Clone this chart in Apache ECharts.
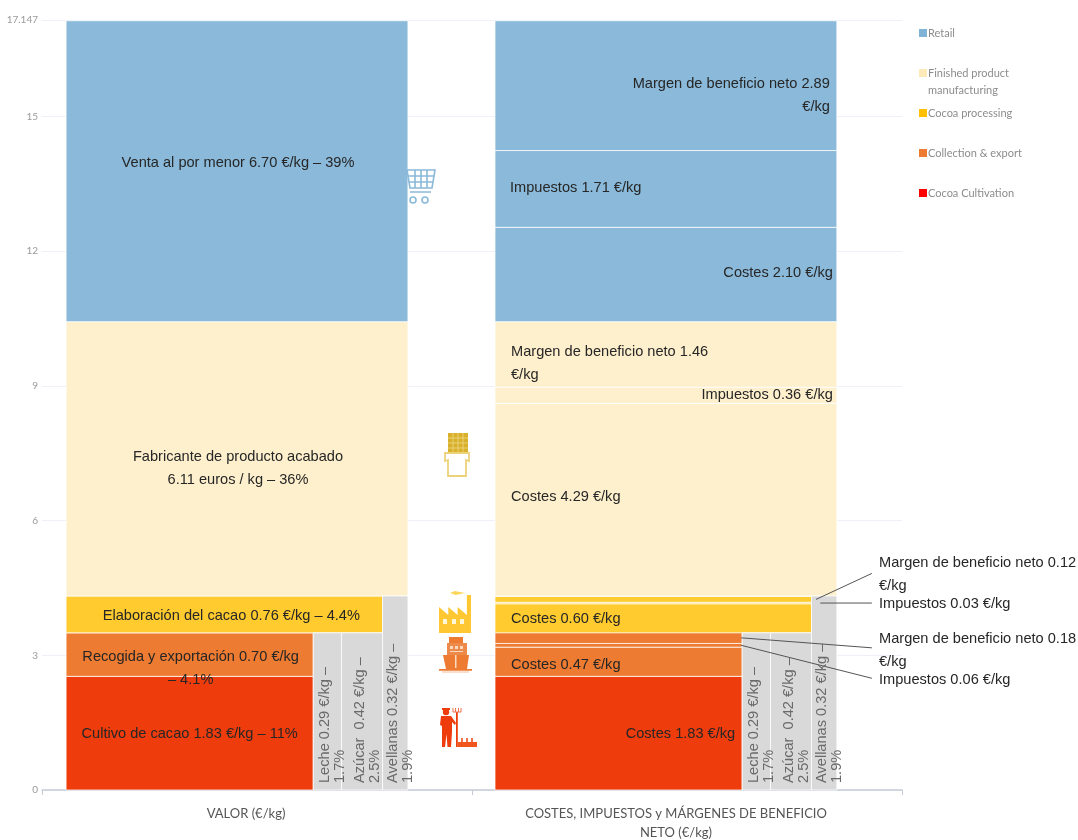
<!DOCTYPE html>
<html>
<head>
<meta charset="utf-8">
<style>html,body{margin:0;padding:0;background:#fff}#chart{width:1078px;height:840px}</style>
<script src="https://cdn.jsdelivr.net/npm/echarts@6/dist/echarts.min.js"></script>
</head>
<body>
<div id="chart"></div>
<script>
// Value of a kilo of chocolate hazelnut spread, by stage of the chain (EUR/kg).
const stageNames = ['Cocoa Cultivation', 'Collection & export', 'Cocoa processing', 'Finished product manufacturing', 'Retail'];
const stageValues = [1.83, 0.70, 0.76, 6.11, 6.70];
const stagePercents = ['11%', '4.1%', '4.4%', '36%', '39%'];
const axisCategories = ['VALOR (€/kg)', 'COSTES, IMPUESTOS y MÁRGENES DE BENEFICIO\nNETO (€/kg)'];

// Breakdown of each stage: costs, taxes, net margin.
const cultivationBreakdown = [1.83];
const collectionBreakdown = [0.47, 0.06, 0.18];
const processingBreakdown = [0.60, 0.03, 0.12];
const manufacturingBreakdown = [4.29, 0.36, 1.46];
const retailBreakdown = [2.10, 1.71, 2.89];

// Other ingredients, shown beside the cocoa stages.
const ingredientNames = ['Leche', 'Azúcar ', 'Avellanas'];
const ingredientValues = [0.29, 0.42, 0.32];
const ingredientPercents = ['1.7%', '2.5%', '1.9%'];

const axisMax = 17.147;
const palette = ['#ee3c0c', '#ed7b31', '#ffcb2f', '#fef0cd', '#8ab9d9'];
const legendColors = ['#ff0000', '#ed7b31', '#ffc000', '#fee9b8', '#7fb3d5'];
const greyFill = '#d9d9d9';
const LABEL_FONT = '14.6px "Liberation Sans", Arial, sans-serif';

// Each block's AREA is its value, so a narrower column stands taller.
const [crop, collect, proc] = stageValues;
const [milk, sugar, nuts] = ingredientValues;
const lower = crop + collect;
const shelf = milk + sugar;
const baseTotal = lower + shelf + proc + nuts;
const procShare = (lower + shelf + proc) / baseTotal;
const lowerShare = procShare * lower / (lower + shelf);
const lowerHeight = (lower + shelf) / procShare;

const colStart = [0.056, 1.0535];
const colSpan = 0.795;
const xAt = (col, share) => colStart[col] + colSpan * share;

// Stacks one stage's blocks upward; returns [x0, x1, y0, y1] rows.
function stack(parts, share, base, col) {
  let y = base;
  return parts.map(v => {
    const top = y + v / share;
    const row = [xAt(col, 0), xAt(col, share), y, top];
    y = top;
    return row;
  });
}
const tops = [];
let runY = 0;
const shares = [lowerShare, lowerShare, procShare, 1, 1];
stageValues.forEach((v, i) => { tops.push(runY); runY += v / shares[i]; });

const breakdowns = [cultivationBreakdown, collectionBreakdown, processingBreakdown, manufacturingBreakdown, retailBreakdown];
const stageRows = stageValues.map((v, i) => {
  const left = stack([v], shares[i], tops[i], 0);
  const right = stack(breakdowns[i], shares[i], tops[i], 1);
  return { left: left[0], right };
});

function ingredientRows(col) {
  const a = milk / lowerHeight, b = sugar / lowerHeight;
  return [
    [xAt(col, lowerShare), xAt(col, lowerShare + a), 0, lowerHeight],
    [xAt(col, lowerShare + a), xAt(col, lowerShare + a + b), 0, lowerHeight],
    [xAt(col, procShare), xAt(col, 1), 0, baseTotal]
  ];
}
const leftGrey = ingredientRows(0);
const rightGrey = ingredientRows(1);

const eur = v => v.toFixed(2) + ' €/kg';
const mid = r => (r[2] + r[3]) / 2;
const cx = r => (r[0] + r[1]) / 2;

// Text placed against the blocks: [text, x, y, align, dx, dy, colour, rotated].
const dark = '#262626', greyText = '#6a6a6a';
const sLeft = stageRows.map(s => s.left);
const sRight = stageRows.map(s => s.right);
const outerX = 1.9465;
const labels = [
  [`Cultivo de cacao ${eur(crop)} – ${stagePercents[0]}`, cx(sLeft[0]), mid(sLeft[0]), 'center', 0, 1, dark],
  [`Recogida y exportación ${eur(collect)}\n– ${stagePercents[1]}`, cx(sLeft[1]), mid(sLeft[1]), 'center', 1, 14, dark],
  [`Elaboración del cacao ${eur(proc)} – ${stagePercents[2]}`, cx(sLeft[2]), mid(sLeft[2]), 'center', 7, 2, dark],
  [`Fabricante de producto acabado\n${stageValues[3].toFixed(2)} euros / kg – ${stagePercents[3]}`, cx(sLeft[3]), mid(sLeft[3]), 'center', 1, 10, dark],
  [`Venta al por menor ${eur(stageValues[4])} – ${stagePercents[4]}`, cx(sLeft[4]), mid(sLeft[4]), 'center', 1, -8, dark],

  [`Costes ${eur(cultivationBreakdown[0])}`, sRight[0][0][1], mid(sRight[0][0]), 'right', -7, 1, dark],
  [`Costes ${eur(collectionBreakdown[0])}`, sRight[1][0][0], mid(sRight[1][0]), 'left', 16, 3, dark],
  [`Costes ${eur(processingBreakdown[0])}`, sRight[2][0][0], mid(sRight[2][0]), 'left', 16, 1, dark],
  [`Costes ${eur(manufacturingBreakdown[0])}`, sRight[3][0][0], mid(sRight[3][0]), 'left', 16, -3, dark],
  [`Impuestos ${eur(manufacturingBreakdown[1])}`, sRight[3][1][1], mid(sRight[3][1]), 'right', -4, 0, dark],
  [`Margen de beneficio neto ${manufacturingBreakdown[2].toFixed(2)}\n€/kg`, sRight[3][2][0], mid(sRight[3][2]), 'left', 16, 9, dark],
  [`Costes ${eur(retailBreakdown[0])}`, sRight[4][0][1], mid(sRight[4][0]), 'right', -4, -2, dark],
  [`Impuestos ${eur(retailBreakdown[1])}`, sRight[4][1][0], mid(sRight[4][1]), 'left', 15, -1, dark],
  [`Margen de beneficio neto ${retailBreakdown[2].toFixed(2)}\n€/kg`, sRight[4][2][1], mid(sRight[4][2]), 'right', -7, 10, dark],

  [`Margen de beneficio neto ${processingBreakdown[2].toFixed(2)}\n€/kg`, outerX, mid(sRight[2][2]), 'left', 0, -25, dark],
  [`Impuestos ${eur(processingBreakdown[1])}`, outerX, mid(sRight[2][1]), 'left', 0, 1, dark],
  [`Margen de beneficio neto ${collectionBreakdown[2].toFixed(2)}\n€/kg`, outerX, mid(sRight[1][2]), 'left', 0, 13, dark],
  [`Impuestos ${eur(collectionBreakdown[1])}`, outerX, mid(sRight[1][1]), 'left', 0, 35, dark]
];
[leftGrey, rightGrey].forEach(rows => rows.forEach((r, i) => {
  labels.push([`${ingredientNames[i]} ${eur(ingredientValues[i])} –\n${ingredientPercents[i]}`, cx(r), 0, 'left', 5, -7, greyText, true]);
}));

// Leader lines from thin blocks out to their captions: [x, y, endX, dyEnd].
const leaderEndX = 1.93;
const leaders = [
  [1.80, mid(sRight[2][2]), leaderEndX, -26],
  [1.81, mid(sRight[2][1]), leaderEndX, 0],
  [1.626, mid(sRight[1][2]), leaderEndX, 10],
  [1.626, mid(sRight[1][1]), leaderEndX, 33]
];

const blockItem = (params, api) => {
  const a = api.coord([api.value(0), api.value(2)]);
  const b = api.coord([api.value(1), api.value(3)]);
  return {
    type: 'rect',
    shape: { x: a[0], y: b[1], width: b[0] - a[0], height: a[1] - b[1] },
    style: { fill: api.visual('color'), stroke: '#ffffff', strokeOpacity: 0.75, lineWidth: 1 }
  };
};
const blockSeries = (name, color, rows, z) => ({
  type: 'custom', name, xAxisIndex: 0, yAxisIndex: 0, z,
  renderItem: blockItem, itemStyle: { color },
  encode: { x: [0, 1], y: [2, 3] }, data: rows, silent: true
});

// Pictograms in the white strip between the two columns.
const rect = (x, y, width, height, fill) => ({ type: 'rect', shape: { x, y, width, height }, style: { fill } });
const path = (pathData, x, y, width, height, style) => ({ type: 'path', shape: { pathData, x, y, width, height, layout: 'cover' }, style });
const pictograms = () => [
  { type: 'group', x: 407, y: 168, children: [
    path('M0 2H28L25 20H3ZM1 8H27M2 14H26M8 2V20M14 2V20M20 2V20M3 24H24', 0, 2, 28, 22, { fill: 'none', stroke: '#8ab9d9', lineWidth: 1.6 }),
    { type: 'circle', shape: { cx: 6, cy: 32, r: 3 }, style: { fill: 'none', stroke: '#8ab9d9', lineWidth: 1.6 } },
    { type: 'circle', shape: { cx: 18, cy: 32, r: 3 }, style: { fill: 'none', stroke: '#8ab9d9', lineWidth: 1.6 } }
  ] },
  { type: 'group', x: 445, y: 433, children: [
    rect(3, 0, 20, 20, '#d9b02a'),
    path('M3 5H23M3 10H23M3 15H23M8 0V20M13 0V20M18 0V20', 3, 0, 20, 20, { fill: 'none', stroke: '#f0d98a', lineWidth: 0.8 }),
    path('M0 20L24 20L24 28L21 27V43H3V27L0 28Z', 0, 20, 24, 23, { fill: '#fff', stroke: '#ecd27a', lineWidth: 1.8 })
  ] },
  { type: 'group', x: 439, y: 591, children: [
    path('M0 42V16L9 24V16L18 24V16L27 24V4H31V42Z', 0, 4, 32, 38, { fill: '#ffc832' }),
    path('M11 3L16 1L27 3L17 5Z', 11, 0, 15, 4, { fill: '#ffd65c' }),
    rect(4, 28, 4, 5, '#fff7d8'), rect(13, 28, 4, 5, '#fff7d8'), rect(21, 28, 4, 5, '#fff7d8')
  ] },
  { type: 'group', x: 439, y: 636, children: [
    rect(10, 1, 14, 6, '#ed7b31'),
    rect(8, 7, 20, 12, '#ed8a4a'), rect(11, 10, 3, 3, '#fbd9c0'), rect(16, 10, 3, 3, '#fbd9c0'), rect(21, 10, 3, 3, '#fbd9c0'), rect(11, 15, 13, 1, '#fbd9c0'),
    path('M4 19H30L28 33H7Z', 4, 19, 26, 14, { fill: '#ed7b31' }),
    rect(16, 19, 1.5, 13, '#fbd9c0'),
    rect(0, 33, 33, 1.8, '#ed7b31'), rect(3, 35.5, 27, 1, '#f6bd98')
  ] },
  { type: 'group', x: 440, y: 706, children: [
    { type: 'circle', shape: { cx: 6, cy: 6, r: 3.2 }, style: { fill: '#ee3c0c' } },
    rect(2, 2, 8, 2, '#ee3c0c'),
    path('M1 10H11L16 17L15 19L12 16V26L11 41H7.5L6.5 28L5 41H2V20L0 19Z', 0, 10, 16, 31, { fill: '#ee3c0c' }),
    rect(16, 6, 1.8, 35, '#ee3c0c'),
    path('M13 2V6H21V2M15.5 2V6M18.5 2V6', 13, 2, 8, 4, { fill: 'none', stroke: '#f2704a', lineWidth: 1 }),
    rect(18, 36, 19, 5, '#f2561f'),
    rect(21, 32, 2, 4, '#f2704a'), rect(26, 32, 2, 4, '#f2704a'), rect(31, 32, 2, 4, '#f2704a')
  ] }
];

const series = stageNames.map((name, i) =>
  blockSeries(name, palette[i], [stageRows[i].left, ...stageRows[i].right], 3));
series.push(blockSeries('Ingredientes', greyFill, [...leftGrey, ...rightGrey], 3));

series.push({
  type: 'custom', name: 'leaders', xAxisIndex: 0, yAxisIndex: 0, z: 6, silent: true,
  data: leaders,
  renderItem(params, api) {
    const s = api.coord([api.value(0), api.value(1)]);
    const e = api.coord([api.value(2), api.value(1)]);
    return {
      type: 'line',
      shape: { x1: s[0], y1: s[1], x2: e[0], y2: s[1] + api.value(3) },
      style: { stroke: '#555555', lineWidth: 1 }
    };
  }
});
series.push({
  type: 'custom', name: 'labels', xAxisIndex: 0, yAxisIndex: 0, z: 7, silent: true,
  data: labels.map(l => [l[1], l[2]]),
  renderItem(params, api) {
    const l = labels[params.dataIndex];
    const p = api.coord([api.value(0), api.value(1)]);
    return {
      type: 'text',
      x: p[0] + l[4], y: p[1] + l[5],
      rotation: l[7] ? Math.PI / 2 : 0,
      style: {
        text: l[0], fill: l[6], font: LABEL_FONT,
        align: l[3], verticalAlign: 'middle', lineHeight: l[7] ? 15 : 23
      }
    };
  }
});
series.push({
  type: 'custom', name: 'pictograms', xAxisIndex: 0, yAxisIndex: 0, z: 8, silent: true,
  data: [[1, 0]],
  renderItem: () => ({ type: 'group', children: pictograms() })
});

const axisFont = 'Lato, "Open Sans", sans-serif';
const option = {
  animation: false,
  backgroundColor: '#ffffff',
  grid: { left: 42, right: 176, top: 20, bottom: 50, containLabel: false, outerBoundsMode: 'none' },
  legend: {
    orient: 'vertical', left: 919, top: 26, padding: 0, itemWidth: 8, itemHeight: 8, itemGap: 26,
    selectedMode: false, icon: 'rect',
    textStyle: { color: '#8c8c8c', fontFamily: axisFont, fontSize: 11, padding: [0, 0, 0, -4], lineHeight: 14, height: 14 },
    formatter: n => n === stageNames[3] ? 'Finished product' : n,
    data: [4, 3, 2, 1, 0].map(i => ({ name: stageNames[i], itemStyle: { color: legendColors[i] } }))
  },
  xAxis: [
    { type: 'value', min: 0, max: 2, show: false },
    {
      type: 'category', data: axisCategories, position: 'bottom',
      axisLine: { lineStyle: { color: '#c6cad6', width: 1.5 } },
      axisTick: { show: true, length: 5, lineStyle: { color: '#c6cad6' } },
      axisLabel: { color: '#555555', fontFamily: axisFont, fontSize: 13, margin: 14, lineHeight: 19, interval: 0, padding: [0, 22, 0, 0] },
      splitLine: { show: false }
    }
  ],
  yAxis: {
    type: 'value', min: 0, max: axisMax, interval: 3,
    axisLine: { show: false }, axisTick: { show: false },
    axisLabel: { color: '#9a9a9a', fontFamily: axisFont, fontSize: 10, margin: 4 },
    splitLine: { lineStyle: { color: '#eef2f8', width: 1 } }
  },
  series,
  graphic: [
    { type: 'text', x: 928, y: 85, style: { text: 'manufacturing', fill: '#8c8c8c', font: '11px ' + axisFont } }
  ]
};
echarts.init(document.getElementById('chart'), null, { renderer: 'canvas' }).setOption(option);
</script>
</body>
</html>
